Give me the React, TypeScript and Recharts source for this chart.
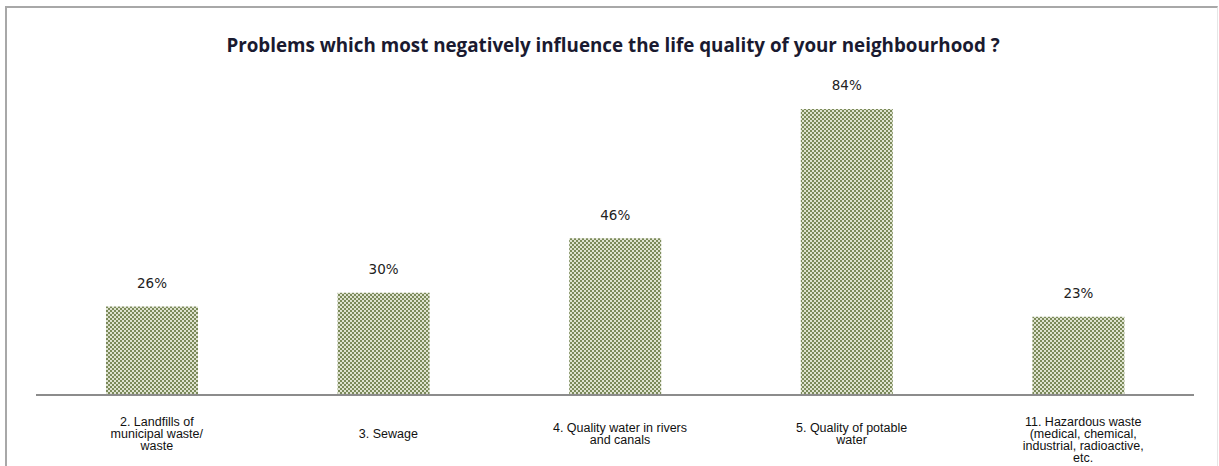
import React from 'react';
import { BarChart, Bar, XAxis, YAxis, LabelList } from 'recharts';

const categories = [
  '2. Landfills of|municipal waste/|waste',
  '3. Sewage',
  '4. Quality water in rivers|and canals',
  '5. Quality of potable|water',
  '11. Hazardous waste|(medical, chemical,|industrial, radioactive,|etc.',
];
const values = [26, 30, 46, 84, 23];
const title = 'Problems which most negatively influence the life quality of your neighbourhood ?';

const data = categories.map((c, i) => ({ name: c, value: values[i] }));

const CategoryTick = (props: any) => {
  const { x, payload } = props;
  const lines: string[] = String(payload.value).split('|');
  const lh = 12;
  const n = Math.min(lines.length, 3);
  const firstY = 434 - ((n - 1) * lh) / 2;
  return (
    <g>
      {lines.map((l, i) => (
        <text
          key={i}
          x={x + 5}
          y={firstY + i * lh}
          textAnchor="middle"
          dominantBaseline="central"
          fontFamily="'Liberation Sans', Arial, sans-serif"
          fontSize={12.5}
          fill="#111"
        >
          {l}
        </text>
      ))}
    </g>
  );
};

const ValueLabel = (props: any) => {
  const { x, y, width, value } = props;
  return (
    <text
      x={x + width / 2}
      y={y - 23.5}
      textAnchor="middle"
      dominantBaseline="central"
      fontFamily="'DejaVu Sans', Verdana, sans-serif"
      fontSize={13.5}
      fill="#222"
    >
      {value}%
    </text>
  );
};

export default function App() {
  return (
    <div style={{ position: 'absolute', left: 0, top: 0, width: 1219, height: 466, background: '#fff', overflow: 'hidden' }}>
      <svg width={0} height={0} style={{ position: 'absolute' }}>
        <defs>
          <pattern id="chk" width={4} height={4} patternUnits="userSpaceOnUse">
            <rect x={0} y={0} width={4} height={4} fill="#dfe3d0" />
            <rect x={0} y={0} width={2} height={2} fill="#7b8a5a" />
            <rect x={2} y={2} width={2} height={2} fill="#7b8a5a" />
          </pattern>
        </defs>
      </svg>
      <div
        style={{
          position: 'absolute',
          left: 5,
          top: 6,
          width: 1210,
          height: 470,
          borderLeft: '2px solid #a8a8a8',
          borderTop: '2px solid #a8a8a8',
          borderRight: '1px solid #e6e6e6',
        }}
      />
      <div
        style={{
          position: 'absolute',
          left: 0,
          top: 32,
          width: 1226,
          textAlign: 'center',
          fontFamily: "'Open Sans', 'Liberation Sans', sans-serif",
          fontWeight: 700,
          fontSize: 18.8,
          color: '#1a1a30',
          lineHeight: '26px',
        }}
      >
        {title}
      </div>
      <div style={{ position: 'absolute', left: 0, top: 0 }}>
        <BarChart
          width={1219}
          height={466}
          data={data}
          margin={{ top: 54.5, right: 25, bottom: 0, left: 36 }}
        >
          <YAxis hide domain={[0, 100]} />
          <XAxis
            dataKey="name"
            height={71}
            axisLine={{ stroke: '#8c8c8c', strokeWidth: 2 }}
            tickLine={false}
            tick={<CategoryTick />}
            interval={0}
          />
          <Bar dataKey="value" fill="url(#chk)" barSize={92} isAnimationActive={false}>
            <LabelList dataKey="value" content={<ValueLabel />} />
          </Bar>
        </BarChart>
      </div>
    </div>
  );
}
